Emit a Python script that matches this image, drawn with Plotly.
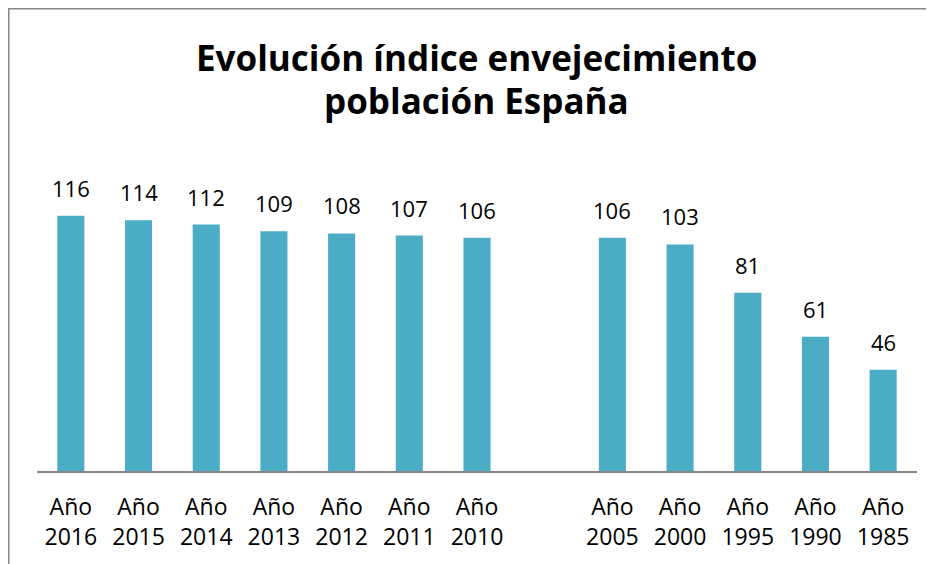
import plotly.graph_objects as go

# Data
years = ["2016", "2015", "2014", "2013", "2012", "2011", "2010", "", "2005", "2000", "1995", "1990", "1985"]
values = [116, 114, 112, 109, 108, 107, 106, None, 106, 103, 81, 61, 46]
prefix = "Año"
title_lines = ["Evolución índice envejecimiento", "población España"]

x_pos = list(range(len(years)))
tick_text = [f"{prefix}<br>{y}" if y else "" for y in years]

FONT = "Open Sans"
BAR = "#4BACC6"
GREY = "#868686"

# the page's default body margin places the figure at (8, 8)
W, H = 934, 564
L, R, T, B = 29, 25, 155, 101
PW = W - L - R
PH = H - T - B


def px_x(p):
    return (p - L) / PW


def px_y(p):
    return (H - B - p) / PH


fig = go.Figure()
fig.add_trace(go.Bar(
    x=x_pos, y=values,
    marker=dict(color=BAR, line=dict(width=0)),
    width=0.4,
    hoverinfo="skip",
))

annotations = []
for xi, v in zip(x_pos, values):
    if v is None:
        continue
    annotations.append(dict(
        x=xi, y=v, xref="x", yref="y",
        text=str(v), showarrow=False,
        yanchor="bottom", yshift=11,
        font=dict(family=FONT, size=22, color="#000000"),
    ))

for i, line in enumerate(title_lines):
    annotations.append(dict(
        x=px_x(468.5), y=1.0, xref="paper", yref="paper",
        text="<b>" + line + "</b>",
        showarrow=False, xanchor="center", yanchor="bottom",
        yshift=37 + 43 * (len(title_lines) - 1 - i),
        font=dict(family=FONT, size=35, color="#000000"),
    ))

frame = dict(color=GREY, width=2)
fig.update_layout(
    width=W, height=H,
    margin=dict(l=L, r=R, t=T, b=B, pad=0),
    paper_bgcolor="#ffffff", plot_bgcolor="#ffffff",
    showlegend=False,
    annotations=annotations,
    xaxis=dict(
        range=[-0.5, len(years) - 0.5],
        tickmode="array", tickvals=x_pos, ticktext=tick_text,
        showline=True, linecolor=GREY, linewidth=1.5,
        showgrid=False, zeroline=False, ticks="",
        ticklabelstandoff=15,
        tickfont=dict(family=FONT, size=23, color="#000000"),
    ),
    yaxis=dict(
        range=[0, 140], visible=False, showgrid=False, zeroline=False,
    ),
    shapes=[
        dict(type="line", xref="paper", yref="paper",
             x0=px_x(0), x1=px_x(W), y0=px_y(0.5), y1=px_y(0.5),
             line=frame, layer="below"),
        dict(type="line", xref="paper", yref="paper",
             x0=px_x(0.5), x1=px_x(0.5), y0=px_y(0), y1=px_y(H),
             line=frame, layer="below"),
    ],
)

fig.write_html("out.html", post_script="document.body.style.overflow='hidden';")
